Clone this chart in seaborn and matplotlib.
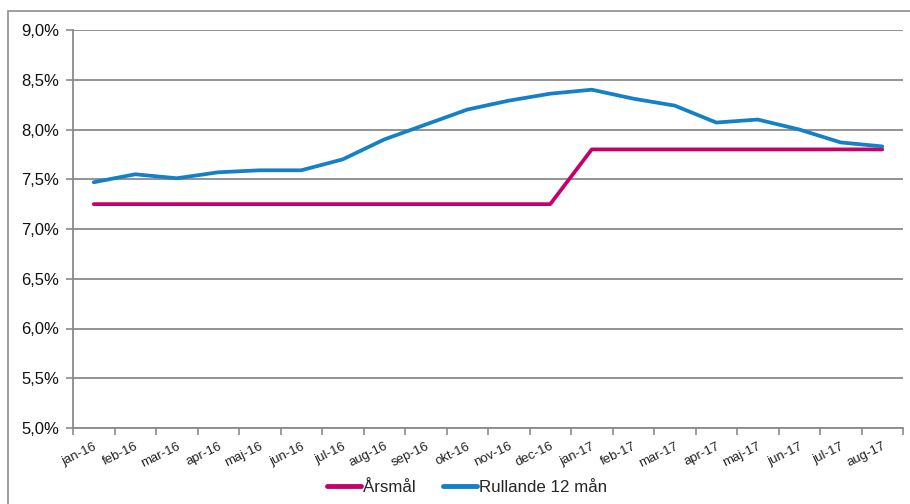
import numpy as np
import pandas as pd
import matplotlib
matplotlib.use("Agg")
import matplotlib.pyplot as plt
import seaborn as sns
from matplotlib.patches import Rectangle
from matplotlib.ticker import FuncFormatter

# ── data ────────────────────────────────────────────────────────────────────
months = ["jan-16", "feb-16", "mar-16", "apr-16", "maj-16", "jun-16", "jul-16",
          "aug-16", "sep-16", "okt-16", "nov-16", "dec-16", "jan-17", "feb-17",
          "mar-17", "apr-17", "maj-17", "jun-17", "jul-17", "aug-17"]
arsmal = [7.25] * 12 + [7.80] * 8
rullande = [7.47, 7.55, 7.51, 7.57, 7.59, 7.59, 7.70, 7.90, 8.05, 8.20,
            8.29, 8.36, 8.40, 8.31, 8.24, 8.07, 8.10, 8.00, 7.87, 7.83]
series_names = ["Årsmål", "Rullande 12 mån"]
colors = ["#C6006B", "#1380C8"]

df = pd.DataFrame({"pos": range(len(months)), series_names[0]: arsmal,
                   series_names[1]: rullande})
long = df.melt(id_vars="pos", var_name="serie", value_name="val")

# ── figure ──────────────────────────────────────────────────────────────────
sns.set_theme(style="white")
plt.rcParams["font.family"] = ["Liberation Sans", "DejaVu Sans"]

fig = plt.figure(figsize=(9.1, 5.04), dpi=100)
ax = fig.add_axes([73 / 910, 1 - 428 / 504, 830 / 910, 398 / 504])

# outer chart border
fig.patches.append(Rectangle((8 / 910, -0.05), 1.0, 1 - 11 / 504 + 0.05,
                             transform=fig.transFigure, fill=False,
                             edgecolor="#8c8c8c", linewidth=1.2, zorder=0))

grid_c = "#8a8a8a"
for y in np.arange(5.0, 9.01, 0.5):
    ax.axhline(y, color=grid_c, linewidth=1.3, zorder=0)

sns.lineplot(data=long, x="pos", y="val", hue="serie", palette=colors,
             linewidth=2.7, ax=ax, legend=False)

ax.set_xlim(-0.5, len(months) - 0.5)
ax.set_ylim(5.0, 9.0)
ax.set_yticks(np.arange(5.0, 9.01, 0.5))
ax.yaxis.set_major_formatter(FuncFormatter(lambda v, p: f"{v:.1f}%".replace(".", ",")))
ax.tick_params(axis="y", labelsize=12, length=5, width=1.2, color=grid_c,
               pad=5, left=True, labelcolor="#111111")

ax.set_xticks(range(len(months)))
ax.set_xticklabels(months, rotation=26, ha="right", rotation_mode="anchor",
                   fontsize=9.5, color="#222222")
ax.set_xticks(np.arange(-0.5, len(months), 1.0), minor=True)
ax.tick_params(axis="x", which="major", length=0, pad=9)
ax.tick_params(axis="x", which="minor", length=5, width=1.2, color=grid_c,
               bottom=True)
ax.set_xlabel("")
ax.set_ylabel("")

for s in ["top", "right"]:
    ax.spines[s].set_visible(False)
for s in ["left", "bottom"]:
    ax.spines[s].set_color(grid_c)
    ax.spines[s].set_linewidth(1.3)

handles = [plt.Line2D([], [], color=c, linewidth=3.5) for c in colors]
fig.legend(handles, series_names, loc="center", ncol=2,
           bbox_to_anchor=(467 / 910, 1 - 487 / 504), frameon=False,
           fontsize=12.2, handlelength=2.0, handletextpad=0.15,
           columnspacing=1.6)

fig.savefig("out.png", dpi=100)
